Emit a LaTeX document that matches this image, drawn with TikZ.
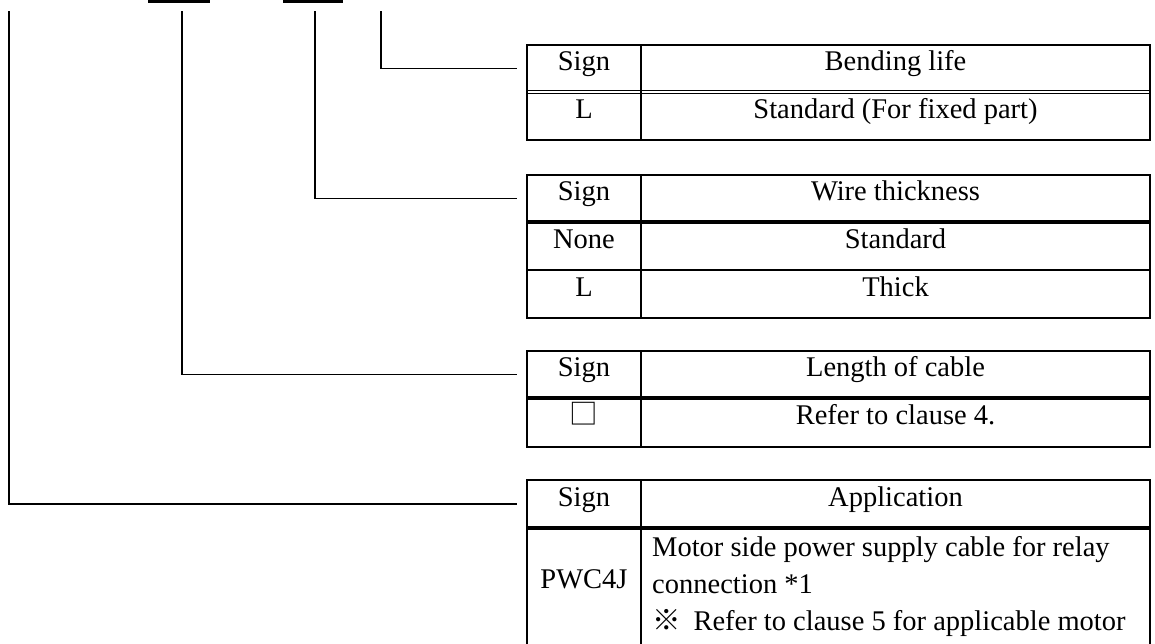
\documentclass[tikz,border=0pt]{standalone}
\usepackage{fontspec}
\setmainfont{Liberation Serif}
\newfontfamily\cjk{Noto Sans CJK JP}
\usetikzlibrary{positioning,calc}

\tikzset{
  frame/.style={black, line width=1.6pt},
  lead/.style={black, line width=1.3pt},
  headrule/.style={black, line width=3.4pt},
  thinrule/.style={black, line width=1.1pt},
  cell/.style={font=\fontsize{28.5}{37}\selectfont, text height=0.68em, text depth=0.2em},
  signcell/.style={cell, minimum width=114pt},
}

\begin{document}
\begin{tikzpicture}[x=1pt,y=1pt]
\tikzstyle{every node}+=[inner sep=0pt]
\useasboundingbox (0,0) rectangle (1155,-643);
\fill [black] (148,1) rectangle (210,-2.5);
\fill [black] (283,1) rectangle (343,-2.5);
\coordinate (p1) at (381,-11);
\coordinate (p2) at (315,-11);
\coordinate (p3) at (182,-11);
\coordinate (p4) at (9,-11);
\draw [frame] (527,-45) rectangle (1150,-140);
\draw [frame] (641,-45) -- (641,-140);
\draw [thinrule] (527,-90.4) -- (1150,-90.4);
\draw [thinrule] (527,-93.8) -- (1150,-93.8);
\node [signcell] (t1s) at (584,-68.5) {Sign};
\node [cell] (t1h) at (895.5,-68.5) {Bending life};
\node [signcell] (t1a) at (584,-116) {L};
\node [cell] (t1b) at (895.5,-116) {Standard (For fixed part)};
\draw [frame] (527,-175) rectangle (1150,-318);
\draw [frame] (641,-175) -- (641,-318);
\draw [headrule] (527,-222) -- (1150,-222);
\draw [thinrule] (527,-270) -- (1150,-270);
\node [signcell] (t2s) at (584,-198.5) {Sign};
\node [cell] (t2h) at (895.5,-198.5) {Wire thickness};
\node [signcell] (t2a) at (584,-246) {None};
\node [cell] (t2b) at (895.5,-246) {Standard};
\node [signcell] (t2c) at (584,-294) {L};
\node [cell] (t2d) at (895.5,-294) {Thick};
\draw [frame] (527,-351) rectangle (1150,-447);
\draw [frame] (641,-351) -- (641,-447);
\draw [headrule] (527,-398) -- (1150,-398);
\node [signcell] (t3s) at (584,-374.5) {Sign};
\node [cell] (t3h) at (895.5,-374.5) {Length of cable};
\node [signcell] (t3a) at (584,-422.5) {\cjk □};
\node [cell] (t3b) at (895.5,-422.5) {Refer to clause 4.};
\draw [frame] (527,-650) -- (527,-480) -- (1150,-480) -- (1150,-650);
\draw [frame] (641,-480) -- (641,-650);
\draw [headrule] (527,-528) -- (1150,-528);
\node [signcell] (t4s) at (584,-504) {Sign};
\node [cell] (t4h) at (895.5,-504) {Application};
\node [signcell] (t4a) at (584,-586) {PWC4J};
\node [anchor=west, align=left, font=\fontsize{28.5}{37}\selectfont] (t4b) at (652,-586) {Motor side power supply cable for relay\\connection *1\\{\cjk ※}\hspace{0.45em}Refer to clause 5 for applicable motor};
\draw [lead] (p1) |- ([xshift=-10pt]t1s.west);
\draw [lead] (p2) |- ([xshift=-10pt]t2s.west);
\draw [lead] (p3) |- ([xshift=-10pt]t3s.west);
\draw [lead] (p4) |- ([xshift=-10pt]t4s.west);
\end{tikzpicture}
\end{document}
